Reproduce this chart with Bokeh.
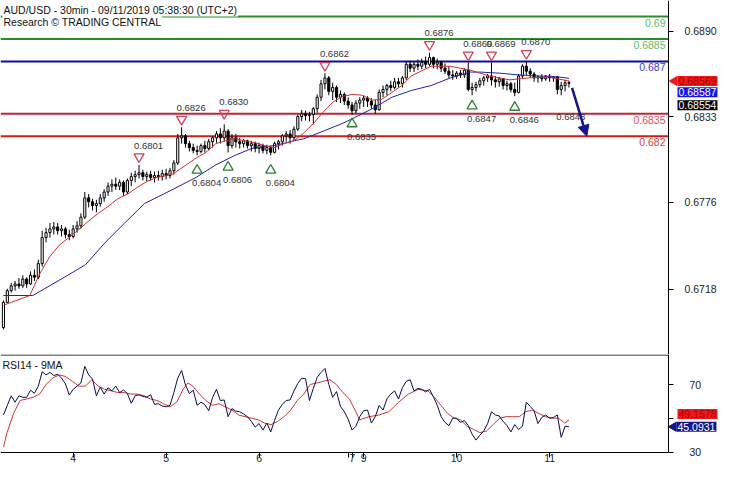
import math
from bokeh.plotting import figure
from bokeh.models import (Range1d, FixedTicker, PrintfTickFormatter, Label, LinearAxis,
                          Arrow, NormalHead, ColumnDataSource)
from bokeh.layouts import column
from bokeh.embed import file_html
from bokeh.resources import INLINE
from bokeh.core.properties import value

# ---------------- data ----------------
HOURS = list(range(147))
OPEN_FIRST = 0.66923
HIGH = [0.67104, 0.67182, 0.67221, 0.67234, 0.67253, 0.67272, 0.67259, 0.67298, 0.67311, 0.67376,
        0.67570, 0.67589, 0.67621, 0.67628, 0.67621, 0.67608, 0.67595, 0.67576, 0.67608, 0.67634,
        0.67686, 0.67828, 0.67815, 0.67783, 0.67776, 0.67815, 0.67847, 0.67892, 0.67912, 0.67925,
        0.67912, 0.67905, 0.67918, 0.67957, 0.67970, 0.68009, 0.67977, 0.67964, 0.67970, 0.67964,
        0.67970, 0.67977, 0.67983, 0.67989, 0.68041, 0.68216, 0.68261, 0.68216, 0.68170, 0.68151,
        0.68138, 0.68151, 0.68170, 0.68183, 0.68203, 0.68235, 0.68254, 0.68280, 0.68248, 0.68216,
        0.68216, 0.68190, 0.68183, 0.68177, 0.68170, 0.68164, 0.68157, 0.68151, 0.68144, 0.68138,
        0.68164, 0.68177, 0.68216, 0.68235, 0.68242, 0.68267, 0.68345, 0.68377, 0.68371, 0.68364,
        0.68396, 0.68480, 0.68577, 0.68622, 0.68603, 0.68558, 0.68539, 0.68506, 0.68493, 0.68461,
        0.68429, 0.68442, 0.68461, 0.68474, 0.68468, 0.68455, 0.68442, 0.68513, 0.68539, 0.68551,
        0.68571, 0.68590, 0.68590, 0.68603, 0.68700, 0.68706, 0.68700, 0.68713, 0.68719, 0.68732,
        0.68758, 0.68732, 0.68719, 0.68706, 0.68687, 0.68668, 0.68642, 0.68635, 0.68642, 0.68655,
        0.68694, 0.68558, 0.68564, 0.68590, 0.68603, 0.68616, 0.68694, 0.68603, 0.68597, 0.68590,
        0.68571, 0.68564, 0.68558, 0.68616, 0.68681, 0.68700, 0.68655, 0.68629, 0.68610, 0.68616,
        0.68610, 0.68616, 0.68603, 0.68603, 0.68564, 0.68577, 0.68571]
LOW = [0.66911, 0.67091, 0.67156, 0.67169, 0.67182, 0.67188, 0.67188, 0.67208, 0.67234, 0.67247,
       0.67330, 0.67492, 0.67524, 0.67544, 0.67544, 0.67531, 0.67518, 0.67505, 0.67518, 0.67557,
       0.67582, 0.67647, 0.67725, 0.67705, 0.67692, 0.67731, 0.67763, 0.67802, 0.67828, 0.67841,
       0.67841, 0.67802, 0.67815, 0.67867, 0.67892, 0.67918, 0.67905, 0.67899, 0.67905, 0.67892,
       0.67905, 0.67905, 0.67912, 0.67918, 0.67944, 0.68009, 0.68151, 0.68125, 0.68099, 0.68086,
       0.68073, 0.68086, 0.68093, 0.68106, 0.68125, 0.68157, 0.68151, 0.68164, 0.68093, 0.68119,
       0.68125, 0.68119, 0.68125, 0.68119, 0.68099, 0.68093, 0.68086, 0.68086, 0.68080, 0.68073,
       0.68086, 0.68112, 0.68138, 0.68164, 0.68151, 0.68170, 0.68235, 0.68300, 0.68306, 0.68300,
       0.68280, 0.68358, 0.68435, 0.68513, 0.68474, 0.68442, 0.68429, 0.68422, 0.68409, 0.68384,
       0.68345, 0.68351, 0.68384, 0.68396, 0.68396, 0.68384, 0.68351, 0.68371, 0.68461, 0.68474,
       0.68500, 0.68513, 0.68526, 0.68526, 0.68577, 0.68629, 0.68629, 0.68642, 0.68648, 0.68655,
       0.68668, 0.68655, 0.68648, 0.68629, 0.68616, 0.68590, 0.68577, 0.68584, 0.68590, 0.68590,
       0.68500, 0.68474, 0.68500, 0.68526, 0.68539, 0.68564, 0.68539, 0.68526, 0.68532, 0.68513,
       0.68506, 0.68493, 0.68468, 0.68487, 0.68590, 0.68610, 0.68590, 0.68564, 0.68558, 0.68564,
       0.68571, 0.68564, 0.68564, 0.68480, 0.68474, 0.68500, 0.68526]
CLOSE = [0.67091, 0.67169, 0.67201, 0.67214, 0.67201, 0.67247, 0.67214, 0.67272, 0.67259, 0.67350,
         0.67524, 0.67557, 0.67582, 0.67595, 0.67570, 0.67582, 0.67544, 0.67531, 0.67582, 0.67602,
         0.67660, 0.67789, 0.67763, 0.67738, 0.67751, 0.67789, 0.67828, 0.67867, 0.67880, 0.67867,
         0.67892, 0.67828, 0.67905, 0.67931, 0.67944, 0.67957, 0.67931, 0.67944, 0.67925, 0.67938,
         0.67931, 0.67951, 0.67938, 0.67970, 0.68022, 0.68190, 0.68203, 0.68151, 0.68125, 0.68106,
         0.68099, 0.68138, 0.68119, 0.68164, 0.68190, 0.68216, 0.68190, 0.68235, 0.68138, 0.68190,
         0.68164, 0.68151, 0.68170, 0.68138, 0.68151, 0.68119, 0.68138, 0.68106, 0.68125, 0.68093,
         0.68151, 0.68164, 0.68203, 0.68216, 0.68190, 0.68248, 0.68332, 0.68351, 0.68338, 0.68345,
         0.68384, 0.68461, 0.68551, 0.68590, 0.68500, 0.68526, 0.68461, 0.68480, 0.68435, 0.68409,
         0.68371, 0.68422, 0.68442, 0.68455, 0.68435, 0.68409, 0.68377, 0.68493, 0.68513, 0.68539,
         0.68526, 0.68564, 0.68551, 0.68590, 0.68681, 0.68655, 0.68681, 0.68668, 0.68694, 0.68681,
         0.68726, 0.68681, 0.68694, 0.68655, 0.68635, 0.68610, 0.68603, 0.68622, 0.68610, 0.68642,
         0.68513, 0.68526, 0.68545, 0.68571, 0.68590, 0.68603, 0.68577, 0.68564, 0.68584, 0.68539,
         0.68551, 0.68513, 0.68493, 0.68603, 0.68668, 0.68635, 0.68616, 0.68590, 0.68597, 0.68584,
         0.68603, 0.68590, 0.68597, 0.68513, 0.68539, 0.68558, 0.68554]

RED_MA_X = [0, 6.8, 9.3, 11.9, 14.4, 16.9, 19.4, 22.0, 24.5, 27.0, 29.5, 32.1, 34.6, 37.1, 39.6,
            42.2, 43.9, 47.2, 49.7, 52.3, 54.8, 57.3, 59.8, 62.4, 64.9, 67.4, 69.9, 72.5, 75.0,
            77.5, 80.1, 82.6, 85.1, 87.6, 90.2, 92.7, 95.2, 97.7, 100.3, 102.8, 105.3, 107.8,
            110.4, 115.4, 120.5, 125.5, 130.6, 135.6, 140.7, 146]
RED_MA = [0.67072, 0.67137, 0.67279, 0.67395, 0.67473, 0.67524, 0.67576, 0.67634, 0.67686, 0.67731,
          0.67783, 0.67815, 0.67860, 0.67899, 0.67925, 0.67938, 0.67951, 0.68009, 0.68054, 0.68093,
          0.68151, 0.68170, 0.68183, 0.68170, 0.68157, 0.68138, 0.68125, 0.68151, 0.68170, 0.68222,
          0.68287, 0.68364, 0.68429, 0.68468, 0.68480, 0.68474, 0.68442, 0.68448, 0.68493, 0.68539,
          0.68603, 0.68635, 0.68668, 0.68668, 0.68642, 0.68603, 0.68577, 0.68590, 0.68597, 0.68569]
BLUE_MA_X = [0, 7.6, 16.2, 21.2, 26.3, 31.3, 36.4, 41.4, 49.7, 54.8, 59.8, 64.1, 69.9, 75.0, 77.5,
             82.6, 87.6, 90.2, 95.2, 100.3, 105.3, 110.4, 115.4, 120.5, 123.0, 128.0, 133.1, 138.1,
             143.2, 146]
BLUE_MA = [0.67137, 0.67137, 0.67266, 0.67343, 0.67492, 0.67621, 0.67751, 0.67815, 0.67925, 0.68009,
           0.68073, 0.68119, 0.68138, 0.68170, 0.68183, 0.68235, 0.68287, 0.68319, 0.68384, 0.68461,
           0.68506, 0.68539, 0.68590, 0.68629, 0.68629, 0.68622, 0.68610, 0.68603, 0.68597, 0.68587]

RSI = [52.1, 57.8, 63.5, 59.7, 63.5, 62.6, 62.6, 66.8, 65.0, 69.2,
       77.8, 75.9, 77.4, 75.5, 76.3, 74.0, 70.6, 63.9, 67.3, 69.2,
       71.1, 81.0, 75.9, 73.4, 63.5, 68.6, 64.5, 68.3, 66.4, 69.2,
       65.4, 66.9, 64.8, 59.1, 63.5, 64.1, 63.1, 62.6, 64.1, 58.4,
       58.8, 57.4, 56.9, 57.8, 65.4, 74.0, 78.5, 69.8, 64.8, 66.8,
       57.8, 59.7, 58.2, 54.6, 62.6, 67.3, 60.7, 61.0, 51.1, 55.9,
       54.4, 54.0, 52.7, 51.1, 48.3, 44.9, 47.0, 43.1, 47.3, 42.0,
       48.9, 55.0, 58.4, 60.7, 61.0, 66.4, 70.8, 74.0, 73.6, 60.7,
       67.9, 74.4, 77.4, 79.7, 70.2, 62.6, 66.0, 57.2, 54.0, 49.6,
       43.1, 45.4, 51.1, 54.6, 55.0, 47.3, 51.1, 57.8, 55.0, 61.6,
       64.5, 66.4, 61.6, 68.3, 72.1, 73.0, 66.4, 67.9, 67.3, 65.8,
       67.3, 62.9, 57.8, 51.1, 47.7, 45.8, 50.2, 50.2, 47.7, 48.8,
       45.8, 40.7, 37.2, 40.1, 42.6, 47.0, 54.0, 52.1, 51.5, 48.3,
       45.8, 42.0, 46.4, 43.5, 45.4, 59.7, 57.2, 54.6, 47.0, 50.7,
       52.1, 50.2, 50.6, 52.1, 38.8, 45.4, 45.0931]
RSI_MA_X = [0, 0.93, 2.61, 4.29, 5.98, 7.66, 9.34, 11.03, 12.71, 14.39, 16.08, 17.76, 19.44, 21.13,
            22.81, 24.5, 26.18, 27.86, 29.55, 31.23, 32.91, 34.6, 36.28, 37.96, 39.65, 41.33, 43.01,
            44.7, 46.38, 47.64, 48.9, 50.59, 52.27, 53.96, 55.64, 57.32, 59.01, 60.69, 62.37, 64.06,
            65.74, 67.42, 69.11, 70.79, 72.47, 74.16, 75.84, 77.53, 79.21, 80.89, 82.58, 84.26,
            85.94, 87.63, 89.31, 91.0, 91.92, 94.45, 96.97, 99.5, 102.02, 104.55, 107.07, 109.6,
            111.28, 112.96, 114.65, 116.33, 118.01, 119.7, 121.38, 123.07, 124.75, 126.43, 128.12,
            129.8, 131.48, 133.17, 134.85, 136.53, 138.22, 139.9, 141.58, 143.27, 144.95, 146]
RSI_MA = [33.0, 41.6, 53.0, 60.7, 61.6, 62.6, 64.5, 70.2, 74.0, 75.9, 74.9, 72.1, 69.2, 69.2,
          73.0, 69.2, 67.3, 66.4, 65.4, 65.4, 64.5, 64.5, 63.5, 61.6, 60.7, 58.8, 56.9,
          59.7, 67.3, 71.1, 69.2, 64.5, 60.7, 57.8, 58.8, 56.9, 55.0, 52.1, 51.1, 50.2,
          49.2, 47.3, 46.4, 48.3, 51.1, 55.0, 60.7, 64.5, 70.2, 71.1, 72.1, 73.0,
          70.2, 65.4, 61.6, 54.0, 49.2, 51.1, 52.1, 54.0, 59.7, 64.5, 67.3, 66.4,
          62.6, 57.8, 53.0, 50.2, 49.2, 45.4, 43.5, 41.6, 42.6, 46.4, 50.2,
          51.1, 51.1, 51.1, 54.0, 55.0, 53.0, 51.1, 50.2, 50.2, 47.3, 49.1578]

LEVELS = [0.6900, 0.6885, 0.6870, 0.6835, 0.6820]
LEVEL_TEXT = ["0.69", "0.6885", "0.687", "0.6835", "0.682"]
LEVEL_COLORS = ["#2a8c2a", "#2a8c2a", "#0c0ca8", "#b8283e", "#d41a1a"]
LEVEL_TEXT_COLORS = ["#66b866", "#66b866", "#3a3ac4", "#d45060", "#d84040"]

SWING_HIGH_X = [35, 46, 57, 83, 110, 120, 126, 135]
SWING_HIGH = [0.6801, 0.6826, 0.6830, 0.6862, 0.6876, 0.6869, 0.6869, 0.6870]
SWING_LOW_X = [50, 58, 69, 90, 121, 132, 144]
SWING_LOW = [0.6804, 0.6806, 0.6804, 0.6835, 0.6847, 0.6846, 0.6848]
SWING_LOW_MARKED = [True, True, True, True, True, True, False]

PRICE_TICKS = [0.6718, 0.6776, 0.6833, 0.6890]
RSI_TICKS = [30, 50, 70]
DAY_TICKS = [18, 42, 66, 89, 90, 93, 117, 141]
DAY_LABELS = ["4", "5", "6", "", "7", "9", "10", "11"]

TITLE = "AUD/USD - 30min - 09/11/2019 05:38:30 (UTC+2)"
SUBTITLE = "Research \u00a9 TRADING CENTRAL"
RSI_TITLE = "RSI14 - 9MA"

# ---------------- layout ----------------
W, H1, H2 = 719, 354, 110
AXIS_PX = 668                       # pixel position of the price axis line
X0, X_AXIS = -0.76, 171.7           # hours at left edge / at the price axis
PXH = AXIS_PX / (X_AXIS - X0)       # pixels per hour
X_END = X0 + W / PXH
P_LO, P_HI = 0.66743, 0.69107
R_LO, R_HI = 30.0, 87.7             # RSI panel: axis level / top border
R_BOTTOM, R_TOP = 22.7, 88.0        # visible RSI range incl. room for the day labels
FONT = "Liberation Sans"
NAVY = "#14148c"

OPEN = [OPEN_FIRST] + CLOSE[:-1]


def style_axis(ax, standoff):
    ax.axis_line_color = "black"
    ax.axis_line_width = 1
    ax.major_tick_out = 5
    ax.major_tick_in = 0
    ax.minor_tick_out = 0
    ax.minor_tick_in = 0
    ax.major_tick_line_color = "black"
    ax.major_label_text_font = FONT
    ax.major_label_text_font_size = "10.5px"
    ax.major_label_text_color = "#222222"
    ax.major_label_standoff = standoff


def tag(fig, txt, yv, yo, fg, bg, xo=9):
    fig.add_layout(Label(x=X_AXIS, y=yv, x_offset=xo, y_offset=yo, text=txt,
                         text_align="left", text_baseline="middle", text_font=FONT,
                         text_font_size="10.5px", text_color=fg,
                         background_fill_color=bg, padding=1))


xr = Range1d(X0, X_END)
p1 = figure(width=W, height=H1, x_range=xr, y_range=Range1d(P_LO, P_HI),
            output_backend="svg", toolbar_location=None, title=None,
            y_axis_location=None, x_axis_location=None,
            min_border_left=0, min_border_right=0, min_border_top=0, min_border_bottom=0)
p1.grid.visible = False
p1.outline_line_color = None
ya = LinearAxis(fixed_location=X_AXIS, ticker=FixedTicker(ticks=PRICE_TICKS),
                formatter=PrintfTickFormatter(format="%.4f"))
style_axis(ya, 11)
p1.add_layout(ya, "right")

ppx = (P_HI - P_LO) / H1

# levels
n = len(LEVELS)
p1.segment(x0=[X0] * n, x1=[X_AXIS] * n, y0=LEVELS, y1=LEVELS,
           line_color=LEVEL_COLORS, line_width=2)
p1.text(x=[X_AXIS] * n, y=LEVELS, text=LEVEL_TEXT, text_color=LEVEL_TEXT_COLORS,
        text_align="right", text_baseline="top", x_offset=-3, y_offset=2,
        text_font=value(FONT), text_font_size="10.5px")

# candles
src = ColumnDataSource(dict(
    x=HOURS, o=OPEN, h=HIGH, l=LOW, c=CLOSE,
    top=[max(o, c) for o, c in zip(OPEN, CLOSE)],
    bot=[min(o, c) for o, c in zip(OPEN, CLOSE)],
    fill=["white" if c >= o else "black" for o, c in zip(OPEN, CLOSE)],
))
p1.segment(x0="x", y0="l", x1="x", y1="h", source=src, line_color="black", line_width=1)
p1.vbar(x="x", width=0.55, top="top", bottom="bot", fill_color="fill",
        line_color="black", line_width=1, source=src)

# moving averages
p1.line(BLUE_MA_X, BLUE_MA, line_color="#2222a8", line_width=1)
p1.line(RED_MA_X, RED_MA, line_color="#cc3030", line_width=1)

# swing markers
p1.scatter(x=SWING_HIGH_X, y=[v + 8 * ppx for v in SWING_HIGH], marker="inverted_triangle",
           size=10, fill_color=None, line_color="#d0405a", line_width=1.3)
p1.text(x=SWING_HIGH_X, y=SWING_HIGH, text=["%.4f" % v for v in SWING_HIGH],
        x_offset=-5, y_offset=-19, text_align="left", text_baseline="middle",
        text_color="#333333", text_font=value(FONT), text_font_size="9.5px")
mx = [x for x, m in zip(SWING_LOW_X, SWING_LOW_MARKED) if m]
my = [v - 10 * ppx for v, m in zip(SWING_LOW, SWING_LOW_MARKED) if m]
p1.scatter(x=mx, y=my, marker="triangle", size=10, fill_color=None,
           line_color="#2e7d32", line_width=1.3)
p1.text(x=SWING_LOW_X, y=SWING_LOW, text=["%.4f" % v for v in SWING_LOW],
        x_offset=-5, y_offset=23, text_align="left", text_baseline="middle",
        text_color="#333333", text_font=value(FONT), text_font_size="9.5px")

# forecast arrow
p1.add_layout(Arrow(end=NormalHead(size=11, fill_color=NAVY, line_color=NAVY),
                    x_start=HOURS[-1] + 0.8, y_start=CLOSE[-1] - 0.0003,
                    x_end=HOURS[-1] + 4.6, y_end=LEVELS[-1],
                    line_color=NAVY, line_width=2.5))

# header
for txt, off in [(TITLE, -2), (SUBTITLE, -14)]:
    p1.add_layout(Label(x=X0, y=P_HI, x_offset=2, y_offset=off, text=txt,
                        text_align="left", text_baseline="top", text_font=FONT,
                        text_font_size="10.5px", text_color="#111111",
                        background_fill_color="white", padding=1))

# price tags right of the axis
p1.scatter(x=[X_AXIS + 6 / PXH], y=[RED_MA[-1]], marker="triangle", angle=math.pi / 2,
           size=9, fill_color="#f01818", line_color="#f01818")
tag(p1, "%.5f" % RED_MA[-1], RED_MA[-1], 0, "#a80000", "#f01818")
tag(p1, "%.5f" % BLUE_MA[-1], BLUE_MA[-1], -14, "white", "#1414e0")
tag(p1, "%.5f" % CLOSE[-1], CLOSE[-1], -22, "white", "black")

# ---------------- RSI panel ----------------
p2 = figure(width=W, height=H2, x_range=xr, y_range=Range1d(R_BOTTOM, R_TOP),
            output_backend="svg", toolbar_location=None, title=None,
            y_axis_location=None, x_axis_location=None,
            min_border_left=0, min_border_right=0, min_border_top=0, min_border_bottom=0)
p2.grid.visible = False
p2.outline_line_color = None
ra = LinearAxis(fixed_location=X_AXIS, ticker=FixedTicker(ticks=RSI_TICKS), bounds=(R_LO, R_TOP))
ra.major_label_overrides = {50: ""}
style_axis(ra, 16)
p2.add_layout(ra, "right")
xa = LinearAxis(fixed_location=R_LO, ticker=FixedTicker(ticks=DAY_TICKS), bounds=(X0, X_AXIS))
xa.major_label_overrides = {t: s for t, s in zip(DAY_TICKS, DAY_LABELS)}
style_axis(xa, -3)
xa.major_label_text_align = "left"
p2.add_layout(xa, "below")

p2.segment(x0=[X0], x1=[X_AXIS], y0=[R_HI], y1=[R_HI], line_color="black", line_width=1)
p2.line(RSI_MA_X, RSI_MA, line_color="#c83838", line_width=1)
p2.line(HOURS, RSI, line_color="#0c0c48", line_width=1)

p2.add_layout(Label(x=X0, y=R_HI, x_offset=2, y_offset=-4, text=RSI_TITLE,
                    text_align="left", text_baseline="top", text_font=FONT,
                    text_font_size="10.5px", text_color="#111111"))
tag(p2, "%.4f" % RSI_MA[-1], RSI_MA[-1], 6, "#a80000", "#f01818")
p2.scatter(x=[X_AXIS + 5 / PXH], y=[RSI[-1]], marker="triangle", angle=math.pi / 2,
           size=9, fill_color=NAVY, line_color=NAVY)
tag(p2, "%.4f" % RSI[-1], RSI[-1], 0, "white", NAVY, xo=8)

layout = column(p1, p2, spacing=0)
open("out.html", "w").write(file_html(layout, INLINE))
